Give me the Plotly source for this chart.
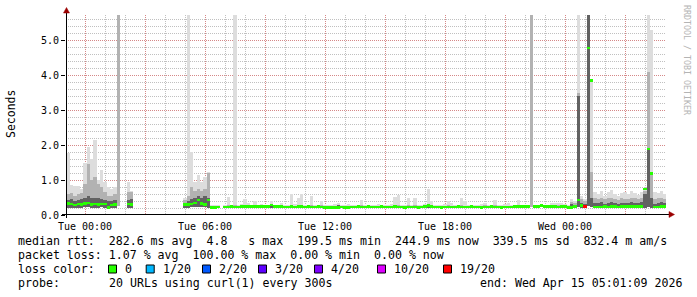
import plotly.graph_objects as go
import pandas as pd

# ---------------- data (10-minute bins, Mon 23:05 .. Wed 05:05) ----------------
bin_centers = pd.date_range("2026-04-13 23:10", periods=180, freq="10min")
N = None

median_s = [
    0.33, 0.31, 0.28, 0.32, 0.30, 0.33, 0.35, 0.30, 0.31, 0.30, 0.32, 0.31,
    0.22, 0.29, 0.30, N, N, N, 0.31, 0.30, N, N, N, N,
    N, N, N, N, N, N, N, N, N, N, N, 0.30,
    0.30, 0.32, 0.35, 0.43, 0.33, 0.30, 0.43, 0.22, 0.22, 0.23, N, 0.23,
    0.23, 0.24, 0.23, 0.23, 0.24, 0.24, 0.25, 0.24, 0.24, 0.25, 0.24, 0.25,
    0.25, 0.29, 0.25, 0.24, 0.24, 0.23, 0.23, 0.24, 0.23, 0.24, 0.24, 0.23,
    0.24, 0.23, 0.23, 0.24, 0.23, 0.22, 0.21, 0.21, 0.22, 0.22, 0.23, 0.22,
    0.22, 0.23, 0.23, 0.24, 0.23, 0.23, 0.24, 0.23, 0.23, 0.23, 0.24, 0.23,
    0.23, 0.23, 0.24, 0.23, 0.23, 0.22, 0.23, 0.23, 0.23, 0.22, 0.23, 0.24,
    0.27, 0.24, 0.23, 0.23, 0.22, 0.23, 0.23, 0.23, 0.23, 0.24, 0.23, 0.23,
    0.23, 0.24, 0.23, 0.23, 0.22, 0.23, 0.23, 0.24, 0.23, 0.23, 0.22, 0.23,
    0.23, 0.23, 0.24, 0.24, 0.24, 0.25, 0.24, N, 0.25, 0.25, 0.27, 0.25,
    0.24, 0.24, 0.24, 0.23, 0.24, 0.24, 0.22, 0.22, 0.24, 0.43, 0.27, 0.24,
    4.77, 3.85, 0.23, 0.23, 0.23, 0.24, 0.23, 0.24, 0.24, 0.23, 0.25, 0.24,
    0.24, 0.25, 0.24, 0.24, 0.24, 0.74, 1.89, 1.19, 0.23, 0.23, 0.24, 0.24,
]

smoke_lo = [
    0.20, 0.21, 0.20, 0.21, 0.20, 0.22, 0.22, 0.21, 0.20, 0.21, 0.22, 0.21,
    0.19, 0.20, 0.20, 0.25, N, N, 0.21, 0.21, N, N, N, N,
    N, N, N, N, N, N, N, N, N, N, N, 0.21,
    0.21, 0.22, 0.22, 0.23, 0.22, 0.22, 0.21, 0.20, 0.20, 0.20, N, 0.20,
    0.20, 0.20, 0.20, 0.20, 0.20, 0.20, 0.20, 0.20, 0.20, 0.20, 0.20, 0.20,
    0.20, 0.21, 0.20, 0.20, 0.20, 0.20, 0.20, 0.20, 0.20, 0.20, 0.20, 0.20,
    0.20, 0.20, 0.20, 0.20, 0.20, 0.19, 0.19, 0.19, 0.19, 0.19, 0.20, 0.19,
    0.19, 0.20, 0.20, 0.20, 0.20, 0.20, 0.20, 0.20, 0.20, 0.20, 0.20, 0.20,
    0.20, 0.20, 0.20, 0.20, 0.20, 0.19, 0.20, 0.20, 0.20, 0.19, 0.20, 0.20,
    0.21, 0.20, 0.20, 0.20, 0.19, 0.20, 0.20, 0.20, 0.20, 0.20, 0.20, 0.20,
    0.20, 0.20, 0.20, 0.20, 0.19, 0.20, 0.20, 0.20, 0.20, 0.20, 0.19, 0.20,
    0.20, 0.20, 0.20, 0.20, 0.20, 0.21, 0.20, 0.22, 0.21, 0.21, 0.22, 0.21,
    0.20, 0.20, 0.20, 0.20, 0.20, 0.20, 0.19, 0.20, 0.20, 0.22, 0.21, 0.20,
    0.25, 0.22, 0.20, 0.20, 0.21, 0.20, 0.20, 0.21, 0.20, 0.20, 0.21, 0.20,
    0.20, 0.21, 0.20, 0.20, 0.20, 0.21, 0.22, 0.21, 0.20, 0.20, 0.21, 0.20,
]

smoke_dark = [
    0.42, 0.45, 0.40, 0.42, 0.45, 0.50, 0.55, 0.50, 0.48, 0.50, 0.45, 0.42,
    0.40, 0.40, 0.42, 0.25, N, N, 0.42, 0.45, N, N, N, N,
    N, N, N, N, N, N, N, N, N, N, N, 0.33,
    0.40, 0.45, 0.50, 0.55, 0.50, 0.55, 0.50, 0.25, 0.25, 0.24, N, 0.25,
    0.25, 0.25, 0.25, 0.25, 0.25, 0.26, 0.25, 0.25, 0.26, 0.25, 0.25, 0.25,
    0.25, 0.27, 0.25, 0.25, 0.26, 0.25, 0.25, 0.26, 0.25, 0.25, 0.26, 0.25,
    0.25, 0.25, 0.25, 0.25, 0.25, 0.24, 0.24, 0.24, 0.25, 0.30, 0.25, 0.24,
    0.24, 0.25, 0.25, 0.25, 0.26, 0.25, 0.25, 0.25, 0.25, 0.25, 0.25, 0.25,
    0.25, 0.25, 0.26, 0.26, 0.25, 0.24, 0.25, 0.25, 0.25, 0.24, 0.25, 0.25,
    0.29, 0.26, 0.25, 0.25, 0.24, 0.25, 0.25, 0.25, 0.25, 0.25, 0.25, 0.25,
    0.25, 0.25, 0.25, 0.25, 0.24, 0.25, 0.25, 0.25, 0.25, 0.25, 0.24, 0.25,
    0.25, 0.25, 0.25, 0.26, 0.25, 0.26, 0.25, 0.22, 0.26, 0.26, 0.28, 0.26,
    0.26, 0.26, 0.26, 0.25, 0.26, 0.26, 0.24, 0.32, 0.30, 3.40, 0.35, 0.32,
    5.80, 0.50, 0.35, 0.33, 0.36, 0.32, 0.35, 0.36, 0.33, 0.32, 0.35, 0.34,
    0.33, 0.36, 0.35, 0.33, 0.36, 0.60, 1.90, 0.50, 0.32, 0.35, 0.36, 0.33,
]

smoke_mid = [
    0.60, 0.62, 0.55, 0.60, 0.62, 0.90, 1.45, 1.00, 1.10, 0.90, 0.80, 0.65,
    0.55, 0.55, 0.60, 5.80, N, N, 0.65, 0.65, N, N, N, N,
    N, N, N, N, N, N, N, N, N, N, N, 0.42,
    0.55, 0.80, 0.70, 0.75, 0.70, 0.75, 1.20, 0.27, 0.27, 0.26, N, 0.27,
    0.28, 0.27, 0.28, 0.27, 0.27, 0.30, 0.28, 0.27, 0.28, 0.27, 0.27, 0.27,
    0.27, 0.30, 0.27, 0.27, 0.28, 0.27, 0.27, 0.30, 0.27, 0.28, 0.30, 0.27,
    0.27, 0.28, 0.27, 0.27, 0.28, 0.27, 0.26, 0.26, 0.27, 0.30, 0.27, 0.27,
    0.27, 0.27, 0.27, 0.27, 0.28, 0.27, 0.27, 0.27, 0.27, 0.27, 0.27, 0.27,
    0.27, 0.27, 0.30, 0.30, 0.27, 0.27, 0.28, 0.27, 0.28, 0.27, 0.27, 0.27,
    0.32, 0.28, 0.27, 0.27, 0.26, 0.27, 0.28, 0.27, 0.27, 0.27, 0.28, 0.27,
    0.27, 0.27, 0.27, 0.27, 0.27, 0.28, 0.27, 0.27, 0.28, 0.27, 0.27, 0.27,
    0.27, 0.27, 0.27, 0.28, 0.27, 0.28, 0.27, 5.80, 0.28, 0.28, 0.30, 0.28,
    0.28, 0.30, 0.30, 0.28, 0.30, 0.28, 0.27, 0.38, 0.35, 3.48, 0.45, 0.40,
    5.80, 1.24, 0.48, 0.45, 0.50, 0.45, 0.48, 0.50, 0.45, 0.42, 0.48, 0.45,
    0.45, 0.50, 0.48, 0.45, 0.48, 0.70, 4.10, 1.20, 0.45, 0.48, 0.50, 0.45,
]

smoke_hi = [
    1.77, 0.85, 0.82, 0.82, 0.75, 1.50, 1.95, 1.60, 2.14, 1.00, 1.29, 0.95,
    0.80, 0.75, 0.80, 5.80, N, N, 0.95, 0.70, N, N, N, N,
    N, N, N, N, N, N, N, N, N, N, N, 0.50,
    5.80, 1.81, 0.95, 1.14, 0.95, 1.10, 1.24, 0.30, 0.29, 0.28, N, 0.30,
    0.52, 0.30, 5.80, 0.30, 0.32, 0.45, 0.35, 0.30, 0.40, 0.30, 0.32, 0.30,
    0.30, 0.40, 0.30, 0.30, 0.35, 0.30, 0.30, 0.60, 0.32, 0.50, 0.60, 0.30,
    0.30, 0.55, 0.30, 0.30, 0.40, 0.30, 0.30, 0.30, 0.32, 0.35, 0.30, 0.30,
    0.32, 0.30, 0.30, 0.30, 0.43, 0.30, 0.30, 0.30, 0.30, 0.32, 0.30, 0.30,
    0.30, 0.32, 0.52, 0.57, 0.30, 0.30, 0.48, 0.30, 0.50, 0.30, 0.30, 0.32,
    0.74, 0.40, 0.30, 0.30, 0.30, 0.32, 0.40, 0.35, 0.30, 0.30, 0.49, 0.40,
    0.30, 0.30, 0.30, 0.30, 0.32, 0.35, 0.30, 0.30, 0.43, 0.30, 0.30, 0.32,
    0.35, 0.30, 0.30, 0.43, 0.30, 0.30, 0.30, 5.80, 0.30, 0.30, 0.30, 0.30,
    0.30, 0.35, 0.35, 0.33, 0.35, 0.32, 0.30, 0.45, 0.40, 5.80, 0.55, 0.45,
    5.80, 3.90, 0.65, 0.60, 0.70, 0.55, 0.65, 0.72, 0.60, 0.55, 0.62, 0.65,
    0.60, 0.68, 0.62, 0.58, 0.65, 0.75, 5.80, 5.30, 0.65, 0.62, 0.68, 0.60,
]

loss_count = [
    0, 0, 0, 0, 0, 0, 0, 0, 0, 0, 0, 0,
    0, 0, 0, 0, 20, 20, 0, 0, 20, 20, 20, 20,
    20, 20, 20, 20, 20, 20, 20, 20, 20, 20, 20, 0,
    0, 0, 0, 0, 0, 0, 0, 0, 0, 0, 20, 0,
    0, 0, 0, 0, 0, 0, 0, 0, 0, 0, 0, 0,
    0, 0, 0, 0, 0, 0, 0, 0, 0, 0, 0, 0,
    0, 0, 0, 0, 0, 0, 0, 0, 0, 0, 0, 0,
    0, 0, 0, 0, 0, 0, 0, 0, 0, 0, 0, 0,
    0, 0, 0, 0, 0, 0, 0, 0, 0, 0, 0, 0,
    0, 0, 0, 0, 0, 0, 0, 0, 0, 0, 0, 0,
    0, 0, 0, 0, 0, 0, 0, 0, 0, 0, 0, 0,
    0, 0, 0, 0, 0, 0, 0, 0, 0, 0, 0, 0,
    0, 0, 0, 0, 0, 0, 0, 0, 0, 0, 0, 19,
    0, 0, 0, 0, 0, 0, 0, 0, 0, 0, 0, 0,
    0, 0, 0, 0, 0, 0, 0, 0, 0, 0, 0, 0,
]

loss_levels = [0, 1, 2, 3, 4, 10, 19]
loss_labels = ["0", "1/20", "2/20", "3/20", "4/20", "10/20", "19/20"]
loss_colors = ["#26ff00", "#00b8ff", "#0059ff", "#5e00ff", "#7e00ff", "#dd00ff", "#ff0000"]

x_tick_vals = ["2026-04-14 00:00", "2026-04-14 03:00", "2026-04-14 06:00", "2026-04-14 09:00",
               "2026-04-14 12:00", "2026-04-14 15:00", "2026-04-14 18:00", "2026-04-14 21:00",
               "2026-04-15 00:00", "2026-04-15 03:00"]
x_tick_text = ["Tue 00:00", "", "Tue 06:00", "", "Tue 12:00", "", "Tue 18:00", "", "Wed 00:00", ""]
y_tick_vals = [0, 1, 2, 3, 4, 5]
y_tick_text = ["0.0", "1.0", "2.0", "3.0", "4.0", "5.0"]

legend_line1 = "median rtt:  282.6 ms avg  4.8   s max  199.5 ms min  244.9 ms now  339.5 ms sd  832.4 m am/s"
legend_line2 = "packet loss: 1.07 % avg  100.00 % max  0.00 % min  0.00 % now"
legend_loss_title = "loss color:"
probe_label = "probe:"
probe_text = "20 URLs using curl(1) every 300s"
end_text = "end: Wed Apr 15 05:01:09 2026"
y_title = "Seconds"
watermark = "RRDTOOL / TOBI OETIKER"

# ---------------- geometry helpers ----------------
W, H = 697, 297
L, R, T, B = 66, 666, 15, 215
Y_MAX = 200 / 35.0
FONT = "DejaVu Sans Mono"
NBSP = "\u00a0"


def fx(px):
    return (px - L) / (R - L)


def fy(py):
    return (B - py) / (B - T)


def nb(s):
    return s.replace(" ", NBSP)


def loss_color(c):
    col = loss_colors[0]
    for lv, cc in zip(loss_levels, loss_colors):
        if c >= lv:
            col = cc
    return col


fig = go.Figure()
BIN_MS = 600000


def band(lo, top, color):
    base, h = [], []
    for a, b in zip(lo, top):
        if a is None or b is None:
            base.append(None)
            h.append(None)
        else:
            base.append(a)
            h.append(b - a)
    fig.add_trace(go.Bar(x=bin_centers, y=h, base=base, width=BIN_MS,
                         marker=dict(color=color, line=dict(width=0)),
                         hoverinfo="skip", showlegend=False))


band(smoke_lo, smoke_hi, "#dddddd")
band(smoke_lo, smoke_mid, "#b2b2b2")
band(smoke_lo, smoke_dark, "#626262")

MED_H = 2.5 / 35.0
med_base = [None if m is None else m - MED_H / 2 for m in median_s]
med_h = [None if m is None else MED_H for m in median_s]
fig.add_trace(go.Bar(x=bin_centers, y=med_h, base=med_base, width=BIN_MS,
                     marker=dict(color=[loss_color(c) for c in loss_count], line=dict(width=0)),
                     hoverinfo="skip", showlegend=False))

GRID = "rgba(140,140,140,0.55)"
MGRID = "rgba(230,90,90,0.55)"

fig.update_layout(
    width=W, height=H,
    margin=dict(l=L, r=W - R, t=T, b=H - B, pad=0),
    paper_bgcolor="white", plot_bgcolor="white",
    barmode="overlay", bargap=0, showlegend=False,
    font=dict(family=FONT, size=10, color="#000000"),
    xaxis=dict(type="date", range=["2026-04-13 23:03", "2026-04-15 05:03"],
               tickmode="array", tickvals=x_tick_vals, ticktext=x_tick_text,
               showgrid=True, gridcolor=MGRID, griddash="1px,1px", gridwidth=1,
               ticks="", ticklabelstandoff=4, showline=False, zeroline=False, fixedrange=True,
               tickfont=dict(family=FONT, size=10, color="#000000"),
               minor=dict(dtick=3600000, tick0="2026-04-14 00:00", showgrid=True,
                          gridcolor=GRID, griddash="1px,1px", gridwidth=1, ticks="")),
    yaxis=dict(range=[0, Y_MAX], tickmode="array", tickvals=y_tick_vals, ticktext=y_tick_text,
               showgrid=True, gridcolor=MGRID, griddash="1px,1px", gridwidth=1,
               ticks="outside", ticklen=4, tickcolor="#000000", tickwidth=1,
               showline=False, zeroline=False, fixedrange=True,
               tickfont=dict(family=FONT, size=10, color="#000000"),
               minor=dict(dtick=0.2, tick0=0, showgrid=True, gridcolor=GRID,
                          griddash="1px,1px", gridwidth=1, ticks="")),
)

shapes = []
# axes lines
shapes.append(dict(type="line", xref="paper", yref="paper", x0=fx(62), x1=fx(670), y0=fy(214.5), y1=fy(214.5),
                   line=dict(color="#000000", width=1)))
shapes.append(dict(type="line", xref="paper", yref="paper", x0=fx(66.5), x1=fx(66.5), y0=fy(218), y1=fy(12),
                   line=dict(color="#000000", width=1)))
# arrow heads
shapes.append(dict(type="path", xref="paper", yref="paper",
                   path="M %f,%f L %f,%f L %f,%f Z" % (fx(669), fy(211.5), fx(674.5), fy(214.5), fx(669), fy(217.5)),
                   fillcolor="#9a0000", line=dict(color="#9a0000", width=0.5)))
shapes.append(dict(type="path", xref="paper", yref="paper",
                   path="M %f,%f L %f,%f L %f,%f Z" % (fx(63.5), fy(13), fx(66.5), fy(7.5), fx(69.5), fy(13)),
                   fillcolor="#9a0000", line=dict(color="#9a0000", width=0.5)))

annotations = []


def text(x, y, s, size=11.6, anchor="left", color="#000000", angle=0):
    annotations.append(dict(x=fx(x), y=fy(y), xref="paper", yref="paper", text=nb(s),
                            showarrow=False, xanchor=anchor, yanchor="middle", textangle=angle,
                            font=dict(family=FONT, size=size, color=color)))


text(16, 241, legend_line1)
text(16, 255, legend_line2)
text(16, 269, legend_loss_title)
box_x = [108, 145.7, 202, 258, 314, 377, 443]
for bx, lab, col in zip(box_x, loss_labels, loss_colors):
    shapes.append(dict(type="rect", xref="paper", yref="paper",
                       x0=fx(bx + 0.5), x1=fx(bx + 8.5), y0=fy(265), y1=fy(273),
                       fillcolor=col, line=dict(color="#000000", width=1)))
    text(bx + 15, 269, lab)
text(16, 283, probe_label)
text(107, 283, probe_text)
text(478, 283, end_text)

annotations.append(dict(x=fx(11), y=fy(114), xref="paper", yref="paper", text=y_title, showarrow=False,
                        xanchor="center", yanchor="middle", textangle=-90,
                        font=dict(family=FONT, size=11.5, color="#000000")))
annotations.append(dict(x=fx(687), y=fy(60), xref="paper", yref="paper", text=nb(watermark), showarrow=False,
                        xanchor="center", yanchor="middle", textangle=90,
                        font=dict(family=FONT, size=8.3, color="#b4b4b4")))

fig.update_layout(shapes=shapes, annotations=annotations)
fig.write_html("out.html")
